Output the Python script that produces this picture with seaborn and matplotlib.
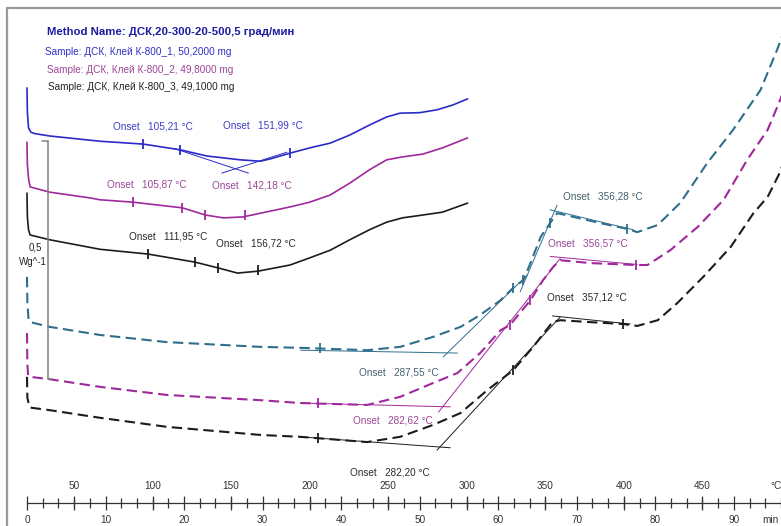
import matplotlib
matplotlib.use("Agg")
import matplotlib.pyplot as plt
import numpy as np
import pandas as pd
import seaborn as sns
from matplotlib.patches import Rectangle

# ---------------- data (time in min, heat flow in W/g, offset curves) ----------------
method_name = "Method Name: ДСК,20-300-20-500,5 град/мин"
sample_labels = ["Sample: ДСК, Клей К-800_1, 50,2000 mg",
                 "Sample: ДСК, Клей К-800_2, 49,8000 mg",
                 "Sample: ДСК, Клей К-800_3, 49,1000 mg"]

# first heating (solid)
t_s1_h1 = [0, 0.05, 0.2, 0.5, 1.0, 2.9, 9.3, 14.8, 19.5, 22.9, 27.1, 29.7, 31.0, 33.5, 36.0, 38.6, 41.1, 43.6, 45.8, 47.5, 50.0, 52.2, 54.2, 56.1]
hf_s1_h1 = [0.851, 0.80, 0.767, 0.758, 0.755, 0.750, 0.739, 0.733, 0.721, 0.708, 0.700, 0.697, 0.702, 0.714, 0.725, 0.735, 0.752, 0.773, 0.790, 0.798, 0.799, 0.805, 0.815, 0.828]

t_s2_h1 = [0, 0.05, 0.2, 0.4, 2.9, 8.0, 9.3, 13.5, 19.8, 22.7, 25.0, 27.5, 29.5, 33.5, 36.0, 38.6, 41.1, 43.6, 45.8, 47.8, 50.4, 52.9, 56.1]
hf_s2_h1 = [0.737, 0.69, 0.66, 0.643, 0.632, 0.620, 0.616, 0.611, 0.599, 0.584, 0.578, 0.580, 0.587, 0.601, 0.611, 0.626, 0.651, 0.679, 0.700, 0.706, 0.712, 0.725, 0.746]

t_s3_h1 = [0, 0.05, 0.2, 0.4, 2.9, 9.3, 15.4, 21.4, 24.3, 26.8, 29.4, 33.5, 36.0, 38.6, 41.1, 43.6, 45.8, 47.8, 50.4, 52.9, 56.1]
hf_s3_h1 = [0.630, 0.58, 0.553, 0.542, 0.532, 0.512, 0.502, 0.485, 0.473, 0.462, 0.466, 0.479, 0.494, 0.510, 0.532, 0.553, 0.569, 0.578, 0.584, 0.590, 0.609]

# second heating (dashed)
t_s1_h2 = [0, 0.05, 0.2, 0.4, 2.9, 9.3, 17.8, 29.7, 34.8, 43.3, 47.5, 51.7, 55.2, 57.7, 60.3, 61.9, 63.2, 64.1, 65.4, 66.6, 67.5, 69.6, 73.0, 76.4, 77.7, 80.3, 83.2, 86.6, 89.9, 93.4, 95.5, 96.1]
hf_s1_h2 = [0.454, 0.40, 0.365, 0.359, 0.349, 0.332, 0.317, 0.307, 0.305, 0.300, 0.307, 0.328, 0.349, 0.374, 0.405, 0.431, 0.447, 0.483, 0.538, 0.567, 0.588, 0.580, 0.567, 0.555, 0.548, 0.563, 0.610, 0.693, 0.763, 0.847, 0.931, 0.958]

t_s2_h2 = [0, 0.05, 0.15, 0.4, 2.9, 9.3, 17.8, 29.7, 34.8, 43.3, 47.5, 51.7, 54.8, 57.7, 60.3, 61.5, 64.1, 65.7, 67.0, 67.9, 71.7, 77.5, 79.0, 81.9, 85.4, 88.7, 91.7, 94.3, 95.9, 96.1]
hf_s2_h2 = [0.336, 0.27, 0.246, 0.244, 0.239, 0.223, 0.206, 0.195, 0.189, 0.185, 0.202, 0.231, 0.252, 0.294, 0.342, 0.353, 0.405, 0.447, 0.475, 0.489, 0.483, 0.479, 0.479, 0.510, 0.559, 0.616, 0.700, 0.763, 0.826, 0.835]

t_s3_h2 = [0, 0.05, 0.3, 0.6, 2.9, 9.3, 17.8, 29.7, 34.8, 43.3, 47.5, 51.7, 55.2, 58.6, 61.9, 64.5, 66.9, 67.9, 71.7, 75.9, 77.7, 80.3, 82.8, 86.1, 89.6, 92.5, 94.3, 95.7, 96.1]
hf_s3_h2 = [0.244, 0.20, 0.181, 0.179, 0.174, 0.158, 0.139, 0.122, 0.118, 0.107, 0.118, 0.143, 0.168, 0.216, 0.258, 0.308, 0.359, 0.363, 0.359, 0.355, 0.351, 0.363, 0.399, 0.454, 0.517, 0.588, 0.622, 0.668, 0.685]

# onset evaluation limit marks
mk_s1_h1 = ([14.8, 19.5, 33.5], [0.733, 0.721, 0.714])
mk_s2_h1 = ([13.5, 19.8, 22.7, 27.8], [0.611, 0.599, 0.584, 0.584])
mk_s3_h1 = ([15.4, 21.4, 24.3, 29.4], [0.502, 0.485, 0.473, 0.468])
mk_s1_h2 = ([37.3, 61.9, 63.2, 66.6, 76.4], [0.305, 0.431, 0.447, 0.567, 0.555])
mk_s2_h2 = ([37.1, 61.5, 64.1, 77.5], [0.189, 0.353, 0.405, 0.479])
mk_s3_h2 = ([37.1, 61.9, 75.9], [0.116, 0.258, 0.355])

# tangent construction lines: (t0, t1), (v0, v1)
tan_s1_h1 = [((18.9, 28.2), (0.723, 0.672)), ((24.8, 33.1), (0.672, 0.716))]
tan_s1_h2 = [((34.8, 54.8), (0.300, 0.294)), ((53.0, 63.7), (0.286, 0.458)),
             ((66.6, 77.2), (0.595, 0.553)), ((62.8, 67.5), (0.423, 0.605))]
tan_s2_h2 = [((34.8, 53.9), (0.189, 0.181)), ((52.4, 67.9), (0.170, 0.493)),
             ((66.6, 77.7), (0.497, 0.480))]
tan_s3_h2 = [((34.8, 53.9), (0.118, 0.095)), ((52.2, 67.9), (0.090, 0.370)),
             ((66.9, 76.8), (0.372, 0.355))]

# onset labels: text, t, v
onset_s1 = [("Onset   105,21 °C", 10.94, 0.769), ("Onset   151,99 °C", 24.94, 0.771)]
onset_s2 = [("Onset   105,87 °C", 10.18, 0.649), ("Onset   142,18 °C", 23.54, 0.647)]
onset_s3 = [("Onset   111,95 °C", 12.98, 0.538), ("Onset   156,72 °C", 24.05, 0.525)]
onset_s1_h2 = [("Onset   287,55 °C", 42.24, 0.254), ("Onset   356,28 °C", 68.19, 0.622)]
onset_s2_h2 = [("Onset   282,62 °C", 41.48, 0.153), ("Onset   356,57 °C", 66.28, 0.525)]
onset_s3_h2 = [("Onset   282,20 °C", 41.09, 0.044), ("Onset   357,12 °C", 66.16, 0.410)]

min_ticks = list(range(0, 100, 10))
temp_ticks = list(range(50, 500, 50))
scale_bar = (0.239, 0.739)   # 0.5 W/g
AXIS_V = -0.021              # level of the time/temperature axis line

# ---------------- styling ----------------
sns.set_theme(style="white")
plt.rcParams["font.family"] = ["Liberation Sans", "DejaVu Sans"]

C_BLUE = "#2b2bc8"
C_MAG = "#a0289c"
C_BLK = "#1c1c1c"
C_TEAL = "#2f6e8c"

fig = plt.figure(figsize=(7.81, 5.26), dpi=100)
ax = fig.add_axes([0, 23 / 526, 1, 503 / 526])
ax.set_xlim(-27 / 7.86, 754 / 7.86)
ax.set_ylim(AXIS_V, 1.0357)
ax.set_facecolor("white")

def curve(t, v, color, lw, ls):
    df = pd.DataFrame({"t": t, "hf": v})
    sns.lineplot(data=df, x="t", y="hf", ax=ax, color=color, linewidth=lw,
                 linestyle=ls, estimator=None, sort=False)

dash = (0, (5, 2.6))
curve(t_s1_h1, hf_s1_h1, C_BLUE, 1.2, "-")
curve(t_s2_h1, hf_s2_h1, C_MAG, 1.2, "-")
curve(t_s3_h1, hf_s3_h1, C_BLK, 1.2, "-")
curve(t_s1_h2, hf_s1_h2, C_TEAL, 1.5, dash)
curve(t_s2_h2, hf_s2_h2, C_MAG, 1.5, dash)
curve(t_s3_h2, hf_s3_h2, C_BLK, 1.5, dash)

for (tt, vv), c in [((mk_s1_h1), C_BLUE), ((mk_s2_h1), C_MAG), ((mk_s3_h1), C_BLK),
                    ((mk_s1_h2), C_TEAL), ((mk_s2_h2), C_MAG), ((mk_s3_h2), C_BLK)]:
    ax.plot(tt, vv, ls="none", marker="|", markersize=7, mew=1.3, color=c)

for segs, c in [(tan_s1_h1, C_BLUE), (tan_s1_h2, C_TEAL), (tan_s2_h2, C_MAG), (tan_s3_h2, C_BLK)]:
    for (tt, vv) in segs:
        ax.plot(tt, vv, color=c, lw=0.7)

fs = 7.2
for labels, c in [(onset_s1, "#3c3cc8"), (onset_s2, "#9a4596"), (onset_s3, "#2a2a2a"),
                  (onset_s1_h2, "#45606e"), (onset_s2_h2, "#9a4596"), (onset_s3_h2, "#2a2a2a")]:
    for txt, tt, vv in labels:
        ax.text(tt, vv, txt, color=c, fontsize=fs, ha="left", va="center")

# header
ax.text(2.54, 0.968, method_name, color="#1c1ca0", fontsize=8.2, fontweight="bold", ha="left", va="center")
ax.text(2.29, 0.926, sample_labels[0], color="#3030c8", fontsize=fs, ha="left", va="center")
ax.text(2.54, 0.889, sample_labels[1], color="#9a4596", fontsize=fs, ha="left", va="center")
ax.text(2.67, 0.853, sample_labels[2], color="#222222", fontsize=fs, ha="left", va="center")

# scale bar
ax.plot([2.67, 2.67], scale_bar, color="#808080", lw=1.1)
ax.plot([1.9, 2.67], [scale_bar[1], scale_bar[1]], color="#808080", lw=1.1)
ax.plot([2.67, 3.2], [scale_bar[0], scale_bar[0]], color="#808080", lw=1.1)
ax.text(1.0, 0.515, "0,5", fontsize=7, color="#222", ha="center", va="center")
ax.text(0.76, 0.485, "Wg^-1", fontsize=7, color="#222", ha="center", va="center")

# x axis (min below, °C above)
for s in ["left", "right", "top"]:
    ax.spines[s].set_visible(False)
ax.spines["bottom"].set_color("#333333")
ax.spines["bottom"].set_linewidth(0.9)
ax.spines["bottom"].set_bounds(0, 754 / 7.86)
ax.set_yticks([])
ax.set_xticks(min_ticks)
ax.set_xticklabels([str(m) for m in min_ticks])
ax.set_xticks(np.arange(0, 97, 2), minor=True)
ax.tick_params(axis="x", which="major", direction="inout", length=10, width=0.9,
               colors="#333333", labelsize=fs, pad=3.5, bottom=True)
ax.tick_params(axis="x", which="minor", direction="inout", length=7, width=0.9,
               colors="#333333", bottom=True)
ax.set_xlabel("")
ax.set_ylabel("")

secax = ax.secondary_xaxis(0.0, functions=(lambda t: 20 + 5 * np.asarray(t), lambda T: (np.asarray(T) - 20) / 5))
secax.set_alignment("top")
secax.set_xticks(temp_ticks)
secax.set_xticklabels([str(T) for T in temp_ticks])
secax.spines["top"].set_visible(False)
secax.spines["bottom"].set_visible(False)
secax.tick_params(axis="x", which="major", direction="inout", length=10, width=0.9,
                  colors="#333333", labelsize=fs, pad=3.5, top=True)

ax.annotate("°C", xy=(94.6, AXIS_V), xytext=(0, 8.5), textcoords="offset points",
            fontsize=fs, color="#333333", ha="left", va="bottom", annotation_clip=False)
ax.annotate("min", xy=(93.6, AXIS_V), xytext=(0, -8.5), textcoords="offset points",
            fontsize=fs, color="#333333", ha="left", va="top", annotation_clip=False)

# outer frame
fig.patches.append(Rectangle((7 / 781, -0.2), 1.5, 1.2 - 8 / 526, transform=fig.transFigure,
                             fill=False, edgecolor="#9a9a9a", lw=1.6, zorder=0))

fig.savefig("out.png", dpi=100, facecolor="white")
